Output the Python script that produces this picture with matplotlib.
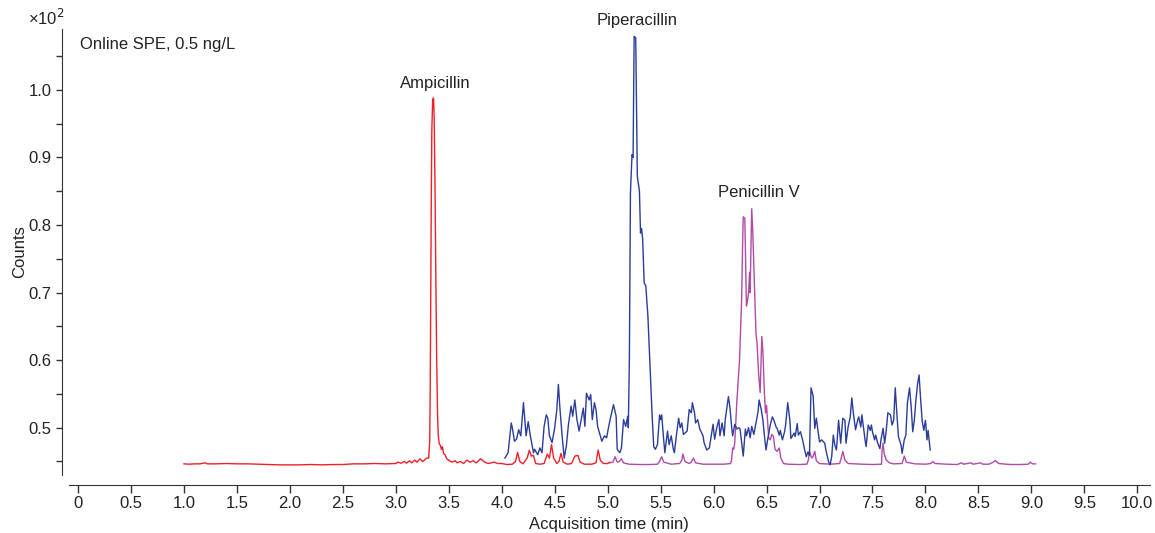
import matplotlib
matplotlib.use("Agg")
import matplotlib.pyplot as plt

# Chromatogram traces (time in min, counts in x10^2)
amp_t = [1.00, 1.05, 1.10, 1.15, 1.20, 1.22, 1.30, 1.40, 1.50, 1.60, 1.70, 1.80, 1.90, 2.00,
         2.10, 2.20, 2.30, 2.40, 2.50, 2.60, 2.70, 2.80, 2.90, 3.00, 3.02, 3.05, 3.08, 3.10,
         3.13, 3.15, 3.18, 3.20, 3.23, 3.25, 3.27, 3.29, 3.31, 3.32, 3.325, 3.33, 3.335, 3.34,
         3.348, 3.356, 3.362, 3.37, 3.378, 3.386, 3.394, 3.40, 3.41, 3.42, 3.43, 3.44, 3.45,
         3.465, 3.48, 3.50, 3.53, 3.56, 3.58, 3.61, 3.64, 3.67, 3.70, 3.73, 3.76, 3.80, 3.84,
         3.87, 3.90, 3.93, 3.96, 4.00, 4.05, 4.10, 4.13, 4.15, 4.17, 4.20, 4.24, 4.26, 4.28,
         4.30, 4.32, 4.36, 4.40, 4.43, 4.45, 4.47, 4.49, 4.52, 4.54, 4.56, 4.58, 4.62, 4.66,
         4.69, 4.72, 4.74, 4.78, 4.85, 4.89, 4.91, 4.93, 4.96, 5.00, 5.02]
amp_v = [0.4465, 0.446, 0.4465, 0.4465, 0.448, 0.4465, 0.4465, 0.447, 0.4465, 0.4465, 0.446,
         0.4455, 0.445, 0.445, 0.445, 0.4455, 0.445, 0.4455, 0.4455, 0.4465, 0.4465, 0.447,
         0.4465, 0.447, 0.449, 0.4475, 0.450, 0.4475, 0.451, 0.448, 0.452, 0.449, 0.454, 0.450,
         0.452, 0.455, 0.455, 0.480, 0.560, 0.700, 0.840, 0.940, 0.985, 0.988, 0.960, 0.860,
         0.720, 0.600, 0.520, 0.490, 0.476, 0.474, 0.468, 0.472, 0.462, 0.460, 0.454, 0.452,
         0.449, 0.451, 0.448, 0.450, 0.447, 0.452, 0.449, 0.451, 0.448, 0.454, 0.449, 0.447,
         0.448, 0.449, 0.447, 0.447, 0.4455, 0.446, 0.450, 0.4635, 0.450, 0.4465, 0.455, 0.4665,
         0.458, 0.459, 0.447, 0.446, 0.447, 0.461, 0.455, 0.475, 0.455, 0.447, 0.450, 0.462,
         0.449, 0.446, 0.447, 0.458, 0.459, 0.449, 0.446, 0.446, 0.448, 0.467, 0.452, 0.447,
         0.447, 0.449]

pip_t = [4.03, 4.06, 4.09, 4.10, 4.12, 4.14, 4.16, 4.18, 4.205, 4.23, 4.25, 4.27, 4.30, 4.31,
         4.34, 4.36, 4.38, 4.40, 4.42, 4.435, 4.45, 4.475, 4.50, 4.52, 4.535, 4.55, 4.57, 4.59,
         4.61, 4.63, 4.655, 4.67, 4.69, 4.71, 4.73, 4.75, 4.77, 4.785, 4.80, 4.825, 4.84, 4.855,
         4.875, 4.89, 4.905, 4.93, 4.945, 4.97, 4.99, 5.01, 5.03, 5.055, 5.08, 5.09, 5.115, 5.13,
         5.15, 5.17, 5.19, 5.195, 5.205, 5.215, 5.23, 5.24, 5.25, 5.265, 5.28, 5.30, 5.31, 5.32,
         5.33, 5.345, 5.36, 5.38, 5.40, 5.42, 5.435, 5.45, 5.47, 5.49, 5.50, 5.51, 5.53, 5.54,
         5.565, 5.58, 5.60, 5.62, 5.63, 5.65, 5.67, 5.685, 5.70, 5.715, 5.73, 5.75, 5.77, 5.79,
         5.80, 5.82, 5.83, 5.85, 5.87, 5.90, 5.91, 5.935, 5.96, 5.975, 5.995, 6.01, 6.03, 6.05,
         6.06, 6.08, 6.10, 6.11, 6.14, 6.155, 6.17, 6.18, 6.20, 6.22, 6.24, 6.25, 6.28, 6.30,
         6.31, 6.33, 6.345, 6.36, 6.38, 6.40, 6.42, 6.43, 6.45, 6.465, 6.48, 6.495, 6.51, 6.535,
         6.555, 6.57, 6.59, 6.60, 6.62, 6.63, 6.65, 6.67, 6.68, 6.70, 6.72, 6.73, 6.76, 6.77,
         6.79, 6.80, 6.82, 6.84, 6.86, 6.875, 6.89, 6.905, 6.92, 6.94, 6.955, 6.97, 6.985, 7.00,
         7.02, 7.05, 7.06, 7.085, 7.10, 7.115, 7.13, 7.145, 7.16, 7.18, 7.20, 7.22, 7.24, 7.25,
         7.27, 7.29, 7.305, 7.32, 7.34, 7.36, 7.37, 7.39, 7.40, 7.43, 7.44, 7.46, 7.48, 7.49,
         7.50, 7.52, 7.53, 7.55, 7.57, 7.58, 7.60, 7.615, 7.63, 7.645, 7.67, 7.685, 7.70, 7.715,
         7.73, 7.745, 7.77, 7.78, 7.80, 7.815, 7.83, 7.85, 7.865, 7.88, 7.895, 7.91, 7.925, 7.94,
         7.955, 7.97, 7.985, 8.00, 8.015, 8.025, 8.045]
pip_v = [0.455, 0.463, 0.507, 0.500, 0.480, 0.483, 0.497, 0.488, 0.537, 0.488, 0.509, 0.488,
         0.463, 0.468, 0.460, 0.470, 0.463, 0.502, 0.519, 0.514, 0.488, 0.478, 0.500, 0.527,
         0.564, 0.527, 0.488, 0.455, 0.473, 0.505, 0.532, 0.517, 0.541, 0.512, 0.495, 0.512,
         0.529, 0.502, 0.551, 0.541, 0.549, 0.512, 0.537, 0.527, 0.502, 0.488, 0.480, 0.488,
         0.485, 0.502, 0.517, 0.534, 0.517, 0.468, 0.463, 0.470, 0.512, 0.502, 0.517, 0.500,
         0.600, 0.847, 0.904, 0.900, 1.079, 1.077, 0.872, 0.850, 0.788, 0.795, 0.780, 0.714,
         0.710, 0.665, 0.590, 0.517, 0.472, 0.468, 0.475, 0.519, 0.512, 0.519, 0.480, 0.463,
         0.495, 0.475, 0.488, 0.468, 0.463, 0.490, 0.514, 0.500, 0.507, 0.490, 0.492, 0.495,
         0.527, 0.522, 0.537, 0.522, 0.507, 0.512, 0.498, 0.488, 0.478, 0.467, 0.470, 0.485,
         0.505, 0.483, 0.500, 0.512, 0.488, 0.507, 0.488, 0.512, 0.546, 0.529, 0.502, 0.488,
         0.505, 0.498, 0.500, 0.498, 0.458, 0.498, 0.488, 0.500, 0.485, 0.502, 0.490, 0.507,
         0.524, 0.541, 0.527, 0.512, 0.488, 0.467, 0.482, 0.504, 0.516, 0.511, 0.501, 0.499,
         0.489, 0.496, 0.482, 0.494, 0.504, 0.537, 0.511, 0.484, 0.492, 0.487, 0.506, 0.489,
         0.494, 0.482, 0.467, 0.457, 0.464, 0.459, 0.559, 0.547, 0.499, 0.514, 0.497, 0.479,
         0.482, 0.477, 0.467, 0.450, 0.445, 0.457, 0.489, 0.474, 0.467, 0.511, 0.477, 0.514,
         0.511, 0.477, 0.501, 0.516, 0.544, 0.521, 0.497, 0.511, 0.516, 0.501, 0.519, 0.482,
         0.472, 0.504, 0.496, 0.504, 0.494, 0.482, 0.489, 0.477, 0.469, 0.482, 0.499, 0.477,
         0.496, 0.522, 0.519, 0.504, 0.511, 0.559, 0.521, 0.487, 0.474, 0.462, 0.482, 0.489,
         0.537, 0.559, 0.532, 0.494, 0.511, 0.541, 0.564, 0.578, 0.541, 0.509, 0.496, 0.511,
         0.482, 0.496, 0.467]

pen_t = [5.02, 5.05, 5.07, 5.09, 5.11, 5.13, 5.15, 5.20, 5.30, 5.40, 5.47, 5.49, 5.51, 5.53,
         5.60, 5.68, 5.70, 5.71, 5.73, 5.77, 5.79, 5.81, 5.83, 5.90, 6.00, 6.10, 6.16, 6.17,
         6.18, 6.19, 6.20, 6.22, 6.245, 6.265, 6.275, 6.28, 6.295, 6.31, 6.32, 6.33, 6.34,
         6.345, 6.36, 6.37, 6.38, 6.40, 6.41, 6.425, 6.44, 6.455, 6.465, 6.48, 6.49, 6.50,
         6.52, 6.535, 6.55, 6.565, 6.58, 6.60, 6.62, 6.635, 6.66, 6.70, 6.80, 6.88, 6.895,
         6.905, 6.925, 6.94, 6.955, 6.97, 7.00, 7.10, 7.19, 7.205, 7.22, 7.24, 7.27, 7.40,
         7.50, 7.585, 7.59, 7.60, 7.61, 7.63, 7.66, 7.70, 7.78, 7.80, 7.82, 7.90, 8.00, 8.05,
         8.07, 8.09, 8.20, 8.30, 8.34, 8.36, 8.43, 8.45, 8.52, 8.54, 8.60, 8.64, 8.66, 8.69,
         8.80, 8.90, 8.97, 8.99, 9.01, 9.04]
pen_v = [0.448, 0.449, 0.457, 0.449, 0.450, 0.454, 0.448, 0.446, 0.4455, 0.4455, 0.446, 0.450,
         0.457, 0.449, 0.446, 0.447, 0.452, 0.461, 0.450, 0.447, 0.449, 0.455, 0.448, 0.446,
         0.446, 0.446, 0.447, 0.452, 0.470, 0.468, 0.478, 0.540, 0.600, 0.690, 0.780, 0.812,
         0.810, 0.680, 0.687, 0.700, 0.730, 0.700, 0.824, 0.790, 0.740, 0.640, 0.625, 0.580,
         0.552, 0.635, 0.615, 0.550, 0.522, 0.533, 0.485, 0.482, 0.490, 0.487, 0.468, 0.465,
         0.470, 0.455, 0.447, 0.446, 0.4455, 0.446, 0.452, 0.465, 0.455, 0.458, 0.465, 0.451,
         0.447, 0.446, 0.447, 0.455, 0.465, 0.452, 0.447, 0.446, 0.4455, 0.446, 0.465, 0.477,
         0.462, 0.452, 0.448, 0.4465, 0.447, 0.458, 0.449, 0.4465, 0.446, 0.447, 0.450, 0.447,
         0.446, 0.4455, 0.448, 0.446, 0.448, 0.446, 0.448, 0.446, 0.446, 0.449, 0.4515, 0.447,
         0.4455, 0.4455, 0.446, 0.449, 0.4465, 0.4465]

x_ticks = [i * 0.5 for i in range(21)]
x_labels = ["0"] + ["%.1f" % v for v in x_ticks[1:]]
y_ticks = [0.5, 0.6, 0.7, 0.8, 0.9, 1.0]
y_minor = [0.45, 0.55, 0.65, 0.75, 0.85, 0.95, 1.05]

plt.rcParams["font.family"] = ["Liberation Sans", "DejaVu Sans"]
txt = "#222222"
fs = 12

fig = plt.figure(figsize=(11.55, 5.33), dpi=100)
ax = fig.add_axes([68.5 / 1155, 58 / 533, (1150 - 68.5) / 1155, (504 - 58) / 533])

ax.plot(amp_t, amp_v, color="#f0202a", lw=1.0)
ax.plot(pen_t, pen_v, color="#b24aa6", lw=1.0)
ax.plot(pip_t, pip_v, color="#2a3c9c", lw=1.0)

ax.set_xlim(-0.09, 10.12)
ax.set_ylim(0.43, 1.09)

for s in ["top", "right"]:
    ax.spines[s].set_visible(False)
ax.spines["left"].set_position(("outward", 5))
ax.spines["bottom"].set_position(("outward", 7))
ax.spines["left"].set_color("#333333")
ax.spines["bottom"].set_color("#333333")

ax.set_xticks(x_ticks)
ax.set_xticklabels(x_labels)
ax.set_yticks(y_ticks)
ax.set_yticklabels(["%.1f" % v for v in y_ticks])
ax.set_yticks(y_minor, minor=True)
ax.tick_params(axis="x", direction="out", length=6, width=1, color="#333333",
               labelsize=fs, labelcolor=txt, pad=2)
ax.tick_params(axis="y", which="both", direction="out", length=4, width=1,
               color="#333333", labelsize=fs, labelcolor=txt, pad=3)

ax.set_xlabel("Acquisition time (min)", fontsize=fs, color=txt)
ax.xaxis.set_label_coords(0.5, -0.094)
ax.set_ylabel("Counts", fontsize=fs, color=txt)
ax.yaxis.set_label_coords(-0.038, 0.5)

ax.text(0.02, 1.067, "Online SPE, 0.5 ng/L", fontsize=fs, color=txt,
        ha="left", va="center")
ax.text(3.37, 1.010, "Ampicillin", fontsize=fs, color=txt, ha="center", va="center")
ax.text(5.28, 1.102, "Piperacillin", fontsize=fs, color=txt, ha="center",
        va="center", clip_on=False)
ax.text(6.43, 0.848, "Penicillin V", fontsize=fs, color=txt, ha="center", va="center")
fig.text(28 / 1155, 1 - 18 / 533, "×10$^2$", fontsize=fs, color=txt,
         ha="left", va="center")

fig.savefig("out.png", dpi=100)
